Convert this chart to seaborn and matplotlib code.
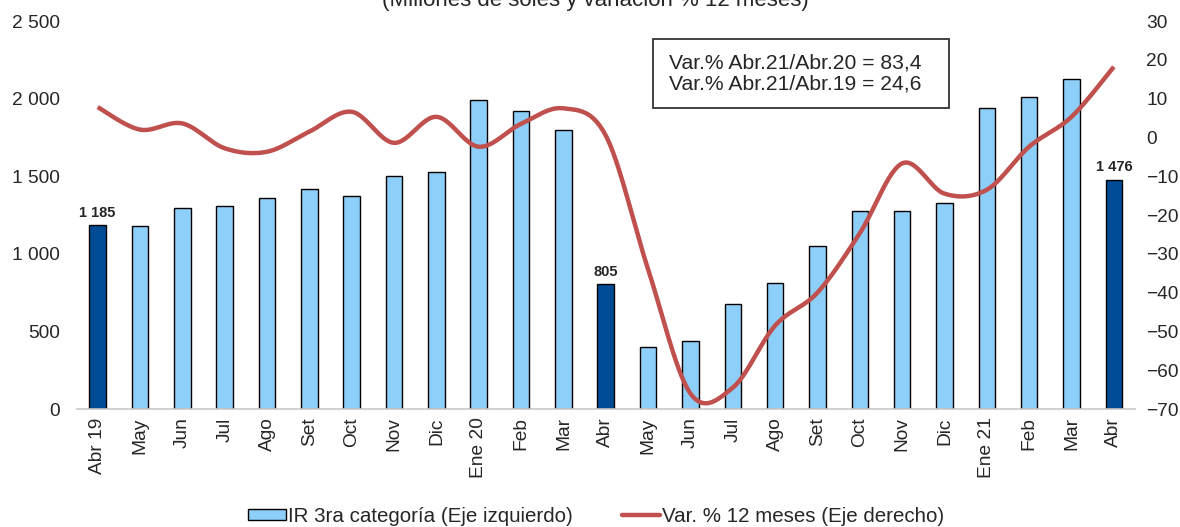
import numpy as np
import pandas as pd
import matplotlib
matplotlib.use("Agg")
import matplotlib.pyplot as plt
from matplotlib.patches import Patch, Rectangle
from matplotlib.lines import Line2D
from matplotlib.ticker import FuncFormatter
import seaborn as sns

# ---------------- data ----------------
months = ["Abr 19", "May", "Jun", "Jul", "Ago", "Set", "Oct", "Nov", "Dic",
          "Ene 20", "Feb", "Mar", "Abr", "May", "Jun", "Jul", "Ago", "Set",
          "Oct", "Nov", "Dic", "Ene 21", "Feb", "Mar", "Abr"]
ir_values = [1185, 1180, 1295, 1308, 1360, 1418, 1372, 1501, 1527,
             1991, 1920, 1798, 805, 401, 438, 676, 810, 1050,
             1278, 1278, 1325, 1941, 2012, 2126, 1476]
var_12m = [7.8, 2.0, 3.6, -2.8, -3.7, 1.5, 6.6, -1.4, 5.3,
           -2.4, 3.5, 7.5, 0.5, -34.0, -66.0, -64.5, -48.5, -40.0,
           -24.7, -6.7, -14.5, -13.5, -2.4, 5.3, 18.2]
highlight = [0, 12, 24]
box_lines = ["Var.% Abr.21/Abr.20 = 83,4", "Var.% Abr.21/Abr.19 = 24,6"]
title = "(Millones de soles y variación % 12 meses)"
legend_labels = ["IR 3ra categoría (Eje izquierdo)", "Var. % 12 meses (Eje derecho)"]

LIGHT = "#8ECFFA"
DARK = "#004C97"
RED = "#C0504D"

sns.set_theme(style="white")
plt.rcParams["font.family"] = ["Liberation Sans", "DejaVu Sans"]

W, H = 1180, 527
fig = plt.figure(figsize=(W / 100, H / 100), dpi=100)
ax = fig.add_axes([76.5 / W, 1 - 409 / H, (1135 - 76.5) / W, (409 - 21) / H])

df = pd.DataFrame({"mes": [f"{i}" for i in range(len(months))], "valor": ir_values})
colors = [DARK if i in highlight else LIGHT for i in range(len(months))]
sns.barplot(data=df, x="mes", y="valor", hue="mes", palette=colors, legend=False,
            width=0.39, edgecolor="black", linewidth=1.0, ax=ax, saturation=1)

ax.set_xlim(-0.5, len(months) - 0.5)
ax.set_ylim(0, 2500)
ax.set_yticks(np.arange(0, 2501, 500))
ax.yaxis.set_major_formatter(FuncFormatter(lambda v, p: f"{int(v):,}".replace(",", " ")))
ax.set_xticks(range(len(months)))
ax.set_xticklabels(months, rotation=90, fontsize=13.8)
ax.tick_params(axis="y", labelsize=13.8, length=0, pad=12)
ax.tick_params(axis="x", length=0, pad=6)
ax.set_xlabel("")
ax.set_ylabel("")
for s in ["top", "right", "left"]:
    ax.spines[s].set_visible(False)
ax.spines["bottom"].set_color("#C8C8C8")
ax.spines["bottom"].set_linewidth(1.2)

for i in highlight:
    ax.annotate(f"{ir_values[i]:,}".replace(",", " "), (i, ir_values[i]),
                xytext=(0, 4), textcoords="offset points", ha="center", va="bottom",
                fontsize=10.5, fontweight="bold")

# ---------------- line (smoothed like Excel) ----------------
ax2 = ax.twinx()
ax2.set_ylim(-70, 30)
ax2.set_yticks(np.arange(-70, 31, 10))
ax2.tick_params(axis="y", labelsize=13.8, length=0, pad=8)
for s in ax2.spines.values():
    s.set_visible(False)
ax2.grid(False)
ax.grid(False)

xp = np.arange(len(var_12m), dtype=float)
yp = np.array(var_12m, dtype=float)
P = np.column_stack([xp, yp])
Pext = np.vstack([P[0], P, P[-1]])
curve = []
t = np.linspace(0, 1, 30)[:, None]
for i in range(len(P) - 1):
    p0, p1, p2, p3 = Pext[i], Pext[i + 1], Pext[i + 2], Pext[i + 3]
    b1 = p1 + (p2 - p0) / 6
    b2 = p2 - (p3 - p1) / 6
    seg = ((1 - t) ** 3) * p1 + 3 * ((1 - t) ** 2) * t * b1 + 3 * (1 - t) * t ** 2 * b2 + t ** 3 * p2
    curve.append(seg if i == 0 else seg[1:])
curve = np.vstack(curve)
ax2.plot(curve[:, 0], curve[:, 1], color=RED, lw=3.2, solid_capstyle="butt")

# ---------------- box ----------------
fig.patches.append(Rectangle((653 / W, 1 - 108 / H), (949 - 653) / W, (108 - 39) / H,
                             transform=fig.transFigure, facecolor="white",
                             edgecolor="#333333", linewidth=1.3, zorder=5))
fig.text(669 / W, 1 - 73.5 / H, "\n".join(box_lines), fontsize=15.2, ha="left", va="center",
         linespacing=1.12, zorder=6)

# ---------------- title ----------------
fig.text(595 / W, 1 - 6 / H, title, fontsize=16, ha="center", va="baseline")

# ---------------- legend ----------------
handles = [Patch(facecolor=LIGHT, edgecolor="black", linewidth=1.0),
           Line2D([0], [0], color=RED, lw=3.2)]
fig.legend(handles, legend_labels, loc="center", bbox_to_anchor=(596 / W, 1 - 516 / H),
           ncol=2, frameon=False, fontsize=14.8, handlelength=1.85, handleheight=0.45,
           handletextpad=0.1, columnspacing=2.4, borderpad=0)

fig.savefig("out.png", dpi=100)
